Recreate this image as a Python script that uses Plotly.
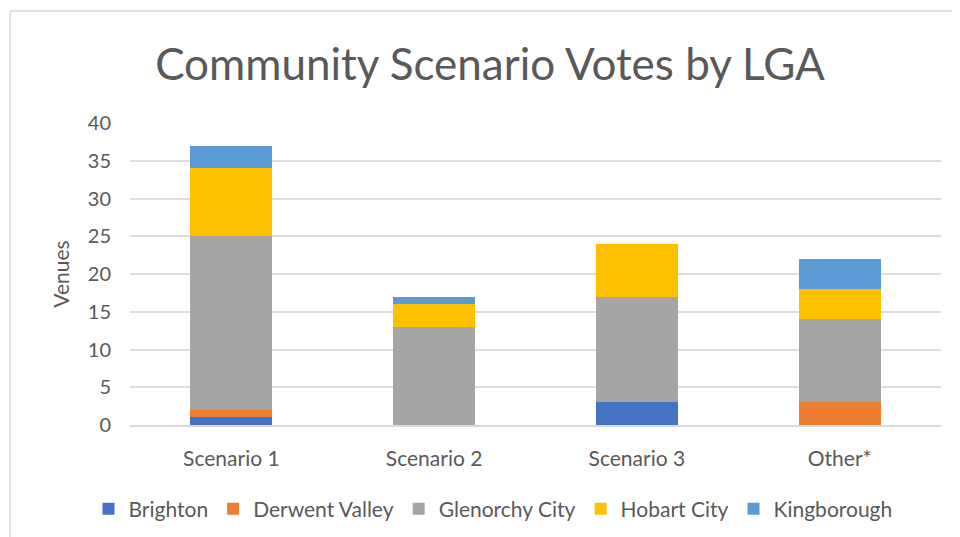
import plotly.graph_objects as go

# Categories and vote counts per LGA
scenarios = ["Scenario 1", "Scenario 2", "Scenario 3", "Other*"]
brighton = [1, 0, 3, 0]
derwent_valley = [1, 0, 0, 3]
glenorchy_city = [23, 13, 14, 11]
hobart_city = [9, 3, 7, 4]
kingborough = [3, 1, 0, 4]

series = [
    ("Brighton", brighton, "#4472C4"),
    ("Derwent Valley", derwent_valley, "#ED7D31"),
    ("Glenorchy City", glenorchy_city, "#A5A5A5"),
    ("Hobart City", hobart_city, "#FFC000"),
    ("Kingborough", kingborough, "#5B9BD5"),
]

W, H = 960, 537
OFF = 8  # page body margin shifts the figure
# plot area in window pixels: x 130..941, y 123..425
L = 130 - OFF
T = 123 - OFF
R = W - (941 - OFF)
B = H - (425 - OFF)

fig = go.Figure()
for name, vals, col in series:
    fig.add_trace(go.Bar(
        x=scenarios, y=vals, name=name,
        marker=dict(color=col, line=dict(width=0)),
    ))

font = "Lato, 'Open Sans', sans-serif"
grey = "#595959"

pw, ph = W - L - R, H - T - B
def px(x):
    return (x - OFF - L) / pw
def py(y):
    return (H - B - (y - OFF)) / ph

fig.update_layout(
    barmode="stack",
    bargap=0.595,
    width=W, height=H,
    margin=dict(l=L, r=R, t=T, b=B),
    paper_bgcolor="white",
    plot_bgcolor="white",
    font=dict(family=font, color=grey),
    title=dict(
        text="Community Scenario Votes by LGA",
        x=(490 - OFF) / W, xanchor="center",
        y=1 - (65 - OFF) / H, yanchor="middle",
        font=dict(size=44, color=grey, family=font),
    ),
    legend=dict(
        orientation="h",
        x=px(493), xanchor="center",
        y=py(509), yanchor="middle",
        font=dict(size=21, color=grey),
        traceorder="normal",
        itemwidth=30,
    ),
    xaxis=dict(
        showgrid=False,
        showline=True, linecolor="#D9D9D9", linewidth=1.5,
        tickfont=dict(size=21, color=grey),
        ticklabelstandoff=14,
    ),
    yaxis=dict(
        range=[0, 40],
        dtick=5,
        showgrid=True, gridcolor="#DDDDDD", gridwidth=1.5,
        zeroline=False,
        tickfont=dict(size=20, color=grey),
        ticklabelstandoff=18,
        title=dict(text="Venues", font=dict(size=21, color=grey), standoff=12),
    ),
    shapes=[
        dict(type="line", xref="paper", yref="paper",
             x0=px(10), x1=px(10), y0=py(11), y1=py(H + OFF),
             line=dict(color="#D9D9D9", width=1.5)),
        dict(type="line", xref="paper", yref="paper",
             x0=px(10), x1=px(W + OFF), y0=py(11), y1=py(11),
             line=dict(color="#D9D9D9", width=1.5)),
    ],
)

fig.write_html("out.html")
